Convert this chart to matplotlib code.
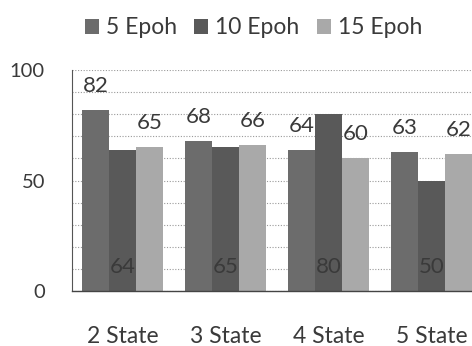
import numpy as np
from matplotlib import pyplot as plt

# chart data
states = ['2 State', '3 State', '4 State', '5 State']
series = ['5 Epoh', '10 Epoh', '15 Epoh']
epoh5 = [82, 68, 64, 63]
epoh10 = [64, 65, 80, 50]
epoh15 = [65, 66, 60, 62]

colors = ['#6c6c6c', '#595959', '#a9a9a9']
txt = '#3a3a3a'

plt.rcParams['font.family'] = ['Lato', 'DejaVu Sans']

fig = plt.figure(figsize=(4.72, 3.46), dpi=100)
ax = fig.add_axes([72/472, 55/346, 410/472, 221/346])

x = np.arange(len(states))
w = 0.262
vals = [epoh5, epoh10, epoh15]
for i, (name, v) in enumerate(zip(series, vals)):
    xs = x + (i - 1) * w
    ax.bar(xs, v, width=w, color=colors[i], label=name, zorder=2)
    for xi, vi in zip(xs, v):
        if i == 1:
            # middle series labels sit inside the bar base
            ax.annotate(str(vi), (xi, 0), xytext=(0, 13), textcoords='offset points',
                        ha='center', va='baseline', fontsize=16, color=txt, zorder=3)
        else:
            ax.annotate(str(vi), (xi, vi), xytext=(0, 13), textcoords='offset points',
                        ha='center', va='baseline', fontsize=16, color=txt, zorder=3)

ax.set_xlim(-0.49, 3.49)
ax.set_ylim(0, 100)
ax.set_yticks([0, 50, 100])
ax.set_yticks(np.arange(0, 101, 10), minor=True)
ax.yaxis.grid(True, which='both', color='#9a9a9a', linestyle=(0, (1, 1.5)), linewidth=0.8, zorder=0)
ax.set_xticks(x)
ax.set_xticklabels(states)
ax.tick_params(axis='y', which='both', length=0, pad=19.5, labelsize=14.5, labelcolor=txt)
ax.tick_params(axis='x', length=0, pad=25, labelsize=16.5, labelcolor=txt)

for s in ['top', 'right']:
    ax.spines[s].set_visible(False)
ax.spines['left'].set_color('#555555')
ax.spines['left'].set_linestyle((0, (1, 1)))
ax.spines['bottom'].set_color('#444444')
ax.spines['bottom'].set_linewidth(1.0)

fig.legend(loc='upper center', bbox_to_anchor=(0.537, 1.01), ncol=3, frameon=False,
           fontsize=16.5, handlelength=0.62, handleheight=0.62, handletextpad=0.3,
           columnspacing=0.75, labelcolor=txt)

plt.savefig('out.png', dpi=100)
plt.close()
